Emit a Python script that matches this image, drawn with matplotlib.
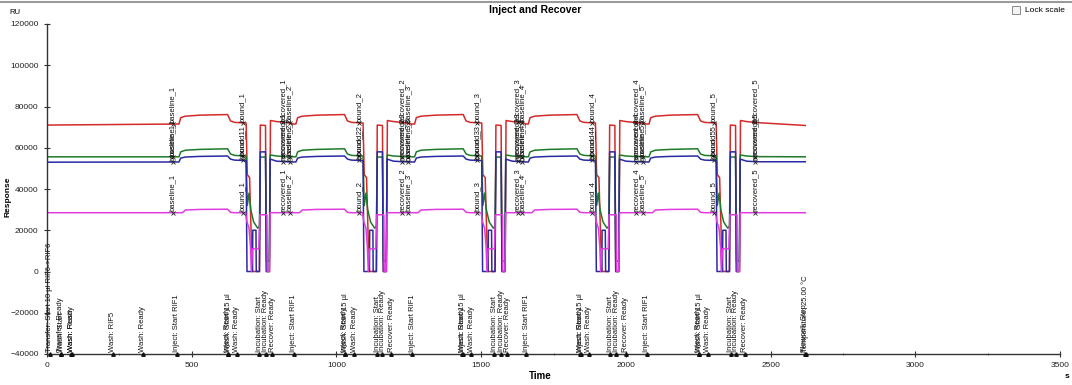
import numpy as np
import matplotlib
matplotlib.use("Agg")
import matplotlib.pyplot as plt
from matplotlib.lines import Line2D
from matplotlib.patches import Rectangle
from matplotlib.ticker import MultipleLocator

plt.rcParams["font.family"] = ["Liberation Sans", "DejaVu Sans"]

# inject start of each cycle (s) and end of run
cycle_starts = [448, 852, 1262, 1655, 2072]
run_end = 2620

# one cycle of each curve, time relative to the inject start
red_rel = [0, 8, 14, 30, 80, 176, 186, 200, 240, 244, 252, 258, 262, 286, 289, 307, 310, 321, 324, 345, 380]
red_val = [71500, 71500, 74600, 75300, 75800, 76100, 73000, 72300, 72000, 47000, 45500, 15000, 0, 0,
           71000, 70800, 0, 0, 73200, 72700, 72200]
green_rel = [0, 8, 14, 30, 80, 176, 186, 200, 240, 244, 250, 256, 266, 280, 286, 289, 307, 310, 320, 323, 345, 380]
green_val = [55600, 55600, 58000, 58800, 59200, 59500, 57000, 56300, 56000, 32000, 38000, 30000, 24000, 21000,
             22000, 55500, 55500, 5000, 5000, 56500, 56000, 55700]
blue_rel = [0, 8, 14, 30, 80, 176, 186, 200, 240, 243, 262, 263, 274, 275, 286, 289, 307, 310, 320, 323, 345, 380]
blue_val = [53100, 53100, 55000, 55500, 55800, 56000, 54500, 54000, 53800, 0, 0, 20000, 20000, 0, 0,
            58000, 58000, 0, 0, 54500, 53500, 53200]
pink_rel = [0, 20, 30, 80, 176, 186, 200, 238, 242, 250, 255, 258, 262, 284, 287, 312, 313, 320, 323, 345, 380]
pink_val = [28500, 28500, 29800, 30100, 30200, 28700, 28500, 28500, 24500, 21000, 12000, 0, 11000, 11000,
            27500, 27500, 0, 0, 28500, 28500, 28500]

# level before the first cycle and at the end of the run
start_vals = {"red": 71000, "green": 55600, "blue": 53000, "pink": 28500}
end_vals = {"red": 70800, "green": 55600, "blue": 53200, "pink": 28500}

# report points
report_times = [434, 676, 815, 838, 1079, 1226, 1248, 1486, 1626, 1641, 1884, 2036, 2058, 2303, 2446]
report_names = ["baseline_1", "bound_1", "recovered_1", "baseline_2", "bound_2", "recovered_2",
                "baseline_3", "bound_3", "recovered_3", "baseline_4", "bound_4", "recovered_4",
                "baseline_5", "bound_5", "recovered_5"]

# event log along the time axis
event_times = [10, 48, 50, 83, 86, 228, 331,
               448, 624, 626, 655, 734, 755, 779,
               852, 1028, 1030, 1062, 1141, 1159, 1190,
               1262, 1434, 1436, 1466, 1545, 1569, 1590,
               1655, 1842, 1844, 1872, 1946, 1966, 2000,
               2072, 2252, 2254, 2283, 2362, 2379, 2410,
               2618, 2621]
cyc = ["Inject: Start RIF1", "Inject: Ready", "Wash: Start 15 µl", "Wash: Ready",
       "Incubation: Start", "Incubation: Ready", "Recover: Ready"]
event_labels = (["Transfer: Start 10 µl RIF6->RIF6", "Transfer: Ready", "Wash: Start", "Wash: Ready",
                 "Wash: Flush", "Wash: RIF5", "Wash: Ready"] + cyc * 5 +
                ["Flowcell: Stop", "Temperature: 25.00 °C"])


def build(name, rel, val):
    t = [0]
    v = [start_vals[name]]
    for t0 in cycle_starts:
        t += [t0 + r for r in rel]
        v += list(val)
    t.append(run_end)
    v.append(end_vals[name])
    return np.array(t, float), np.array(v, float)


curves = [("red", red_rel, red_val, "#d42a2a"),
          ("green", green_rel, green_val, "#1f7a2a"),
          ("blue", blue_rel, blue_val, "#2a2aa5"),
          ("pink", pink_rel, pink_val, "#e03ce0")]

fig = plt.figure(figsize=(10.72, 3.85), dpi=100)
ax = fig.add_axes([47 / 1072, 1 - 354 / 385, (1060 - 47) / 1072, (354 - 24) / 385])

for name, rel, val, col in curves:
    t, v = build(name, rel, val)
    ax.plot(t, v, color=col, lw=1.1, zorder=2)
    ys = np.interp(report_times, t, v)
    ax.plot(report_times, ys, "x", color="#222222", ms=3, mew=0.6, zorder=3)
    for rt, y, lab in zip(report_times, ys, report_names):
        ax.text(rt, y + 600, lab, rotation=90, ha="center", va="bottom", fontsize=5.5, color="#111111", zorder=4)

ax.plot(event_times, [-40000] * len(event_times), "^", color="#111111", ms=2.5, clip_on=False, zorder=4)
for et, lab in zip(event_times, event_labels):
    ax.text(et, -38800, lab, rotation=90, ha="center", va="bottom", fontsize=5.5, color="#111111")

ax.set_xlim(0, 3500)
ax.set_ylim(-40000, 120000)
ax.xaxis.set_major_locator(MultipleLocator(500))
ax.xaxis.set_minor_locator(MultipleLocator(250))
ax.yaxis.set_major_locator(MultipleLocator(20000))
for s in ["top", "right"]:
    ax.spines[s].set_visible(False)
for s in ["left", "bottom"]:
    ax.spines[s].set_color("#333333")
    ax.spines[s].set_linewidth(1)
ax.tick_params(direction="inout", length=5, width=0.8, labelsize=6, colors="#333333", labelcolor="#222222")
ax.tick_params(which="minor", direction="inout", length=2, width=0.6, colors="#555555")

fig.text(535 / 1072, 1 - 10 / 385, "Inject and Recover", ha="center", va="center", fontsize=7.5, fontweight="bold")
fig.text(15 / 1072, 1 - 12 / 385, "RU", ha="center", va="center", fontsize=5.5)
fig.text(8 / 1072, 1 - 197 / 385, "Response", rotation=90, ha="center", va="center", fontsize=6, fontweight="bold")
fig.text(540 / 1072, 1 - 376 / 385, "Time", ha="center", va="center", fontsize=7, fontweight="bold")
fig.text(1067 / 1072, 1 - 376 / 385, "s", ha="center", va="center", fontsize=6, fontweight="bold")
fig.text(1025 / 1072, 1 - 10 / 385, "Lock scale", ha="left", va="center", fontsize=6)
fig.patches.append(Rectangle((1012 / 1072, 1 - 14 / 385), 8 / 1072, 8 / 385, transform=fig.transFigure,
                             facecolor="#f4f4f4", edgecolor="#8a8a8a", lw=0.7))
fig.lines.append(Line2D([0, 1], [1 - 1.5 / 385] * 2, transform=fig.transFigure, color="#9a9a9a", lw=1.5))

fig.savefig("out.png", dpi=100)
